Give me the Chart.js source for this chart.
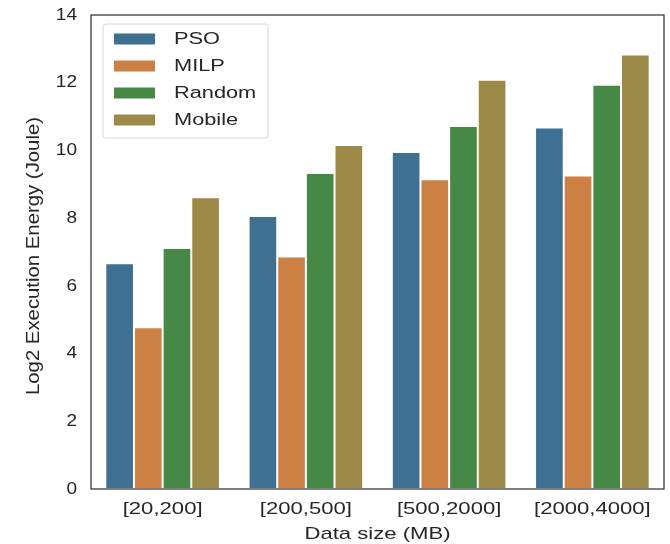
<!DOCTYPE html>
<html>
<head>
<meta charset="utf-8">
<script src="https://cdn.jsdelivr.net/npm/chart.js@4/dist/chart.umd.min.js"></script>
<style>
  html, body { margin: 0; padding: 0; background: #fff; }
  #wrap { width: 670px; height: 544px; }
</style>
</head>
<body>
<div id="wrap"><canvas id="c" width="670" height="544"></canvas></div>
<script>
const categories = ['[20,200]', '[200,500]', '[500,2000]', '[2000,4000]'];
const seriesNames = ['PSO', 'MILP', 'Random', 'Mobile'];
const psoValues = [6.67, 8.06, 9.95, 10.68];
const milpValues = [4.78, 6.87, 9.15, 9.26];
const randomValues = [7.12, 9.33, 10.72, 11.94];
const mobileValues = [8.62, 10.16, 12.09, 12.83];
const yTicks = [0, 2, 4, 6, 8, 10, 12, 14];
const xTitle = 'Data size (MB)';
const yTitle = 'Log2 Execution Energy (Joule)';

const colors = ['#3e7091', '#cc8043', '#468946', '#9c8847'];
const allValues = [psoValues, milpValues, randomValues, mobileValues];

const FONT = '"Liberation Sans", Arial, sans-serif';
const TEXT = '#262626';

// Draw a string with a horizontal stretch factor (wide sans look)
function stretchedText(ctx, str, x, y, size, sx, align) {
  ctx.save();
  ctx.font = size + 'px ' + FONT;
  ctx.textBaseline = 'middle';
  ctx.textAlign = 'left';
  const w = ctx.measureText(str).width * sx;
  let x0 = x;
  if (align === 'center') x0 = x - w / 2;
  else if (align === 'right') x0 = x - w;
  ctx.translate(x0, y);
  ctx.scale(sx, 1);
  ctx.fillStyle = TEXT;
  ctx.fillText(str, 0, 0);
  ctx.restore();
}

// Axis labels, frame and an in-plot legend
const decorPlugin = {
  id: 'decor',
  afterDraw(chart) {
    const { ctx, chartArea: a, scales } = chart;
    ctx.save();

    // frame
    ctx.strokeStyle = '#3a3a3a';
    ctx.lineWidth = 1.3;
    ctx.strokeRect(a.left, a.top, a.right - a.left, a.bottom - a.top);

    // y tick labels
    yTicks.forEach(v => {
      stretchedText(ctx, String(v), a.left - 14, scales.y.getPixelForValue(v), 17, 1.12, 'right');
    });
    // x tick labels
    categories.forEach((c, i) => {
      stretchedText(ctx, c, scales.x.getPixelForValue(i), a.bottom + 20, 17, 1.3, 'center');
    });
    // x title
    stretchedText(ctx, xTitle, (a.left + a.right) / 2, a.bottom + 45, 17, 1.3, 'center');

    // y title (rotated)
    ctx.save();
    ctx.translate(34, (a.top + a.bottom) / 2 + 4);
    ctx.rotate(-Math.PI / 2);
    ctx.font = '19px ' + FONT;
    ctx.textAlign = 'center';
    ctx.textBaseline = 'middle';
    ctx.fillStyle = TEXT;
    const tw = ctx.measureText(yTitle).width;
    ctx.scale(278 / tw, 1);
    ctx.fillText(yTitle, 0, 0);
    ctx.restore();

    // legend
    const bx = a.left + 12, by = a.top + 9, bw = 165, bh = 114;
    ctx.beginPath();
    const r = 3;
    ctx.moveTo(bx + r, by);
    ctx.arcTo(bx + bw, by, bx + bw, by + bh, r);
    ctx.arcTo(bx + bw, by + bh, bx, by + bh, r);
    ctx.arcTo(bx, by + bh, bx, by, r);
    ctx.arcTo(bx, by, bx + bw, by, r);
    ctx.closePath();
    ctx.fillStyle = 'rgba(255,255,255,0.85)';
    ctx.fill();
    ctx.strokeStyle = '#d6d6d6';
    ctx.lineWidth = 1;
    ctx.stroke();

    chart.data.datasets.forEach((ds, i) => {
      const y = by + 15 + i * 27;
      ctx.fillStyle = ds.backgroundColor;
      ctx.fillRect(bx + 11, y - 5.5, 41, 11);
      stretchedText(ctx, ds.label, bx + 71, y + 1, 16, 1.36, 'left');
    });
    ctx.restore();
  }
};

new Chart(document.getElementById('c'), {
  type: 'bar',
  data: {
    labels: categories,
    datasets: seriesNames.map((name, i) => ({
      label: name,
      data: allValues[i],
      backgroundColor: colors[i],
      borderColor: '#ffffff',
      borderWidth: 1,
      borderSkipped: false,
      categoryPercentage: 0.8,
      barPercentage: 1.0
    }))
  },
  options: {
    responsive: false,
    animation: false,
    devicePixelRatio: 1,
    layout: { padding: { left: 0, right: 6, top: 15, bottom: 0 } },
    plugins: {
      legend: { display: false },
      tooltip: { enabled: false }
    },
    scales: {
      x: {
        grid: { display: false, drawTicks: false },
        border: { display: false },
        ticks: { display: false },
        afterFit(scale) { scale.height = 55; }
      },
      y: {
        min: 0,
        max: 14,
        afterBuildTicks(scale) { scale.ticks = yTicks.map(v => ({ value: v })); },
        grid: { display: false, drawTicks: false },
        border: { display: false },
        ticks: { display: false },
        afterFit(scale) { scale.width = 91; }
      }
    }
  },
  plugins: [decorPlugin]
});
</script>
</body>
</html>
